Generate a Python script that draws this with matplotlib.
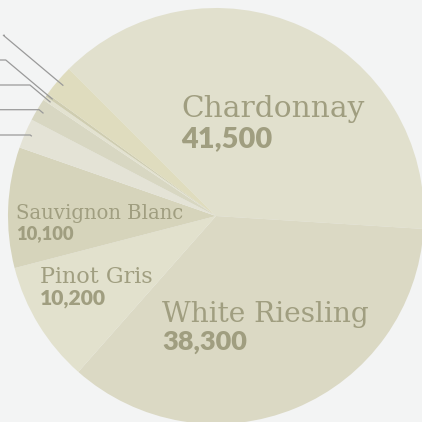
import matplotlib
matplotlib.use("Agg")
import matplotlib.pyplot as plt
import numpy as np

# slice data, clockwise from the top-left edge of Chardonnay
varieties = ["Chardonnay", "White Riesling", "Pinot Gris", "Sauvignon Blanc",
             "Gewurztraminer", "Viognier", "Muscat", "Semillon", "Other Whites"]
tonnes = [41500, 38300, 10200, 10100, 2500, 1900, 350, 270, 2700]
slice_colors = ["#e1e0cd", "#dbd9c4", "#e2e1cd", "#d6d4bb",
                "#e4e3d6", "#d8d7c2", "#e3e2d0", "#cfcdb0", "#dfdcbe"]

# which slices get a big label, and where (pixels, top-left origin)
big_labels = {
    "Chardonnay": (181, 117, 147, 21.3, 20.8),
    "White Riesling": (162, 322, 350, 20.2, 19.5),
    "Sauvignon Blanc": (16, 219, 239, 14.1, 13.2),
    "Pinot Gris": (40, 283, 305, 16.0, 15.2),
}
# leader label rows for the small slices (pixel y, label end x)
leader_rows = [(35.3, 5), (60, -10), (85, -10), (109.7, -10), (135, -10)]

W = 422
BG = "#f3f4f4"
TXT = "#a09e80"
CX, CY, R = 216, W - 216, 208

fig = plt.figure(figsize=(4.22, 4.22), dpi=100, facecolor=BG)
ax = fig.add_axes([0, 0, 1, 1])
ax.set_facecolor(BG)

wedges, _ = ax.pie(tonnes, colors=slice_colors, radius=R, center=(CX, CY),
                   startangle=135, counterclock=False,
                   wedgeprops=dict(linewidth=0, antialiased=True))
ax.set_xlim(0, W)
ax.set_ylim(0, W)
ax.set_aspect("equal")
ax.axis("off")

# big in-slice labels
for name, (x, y_name, y_val, fs_name, fs_val) in big_labels.items():
    val = tonnes[varieties.index(name)]
    ax.text(x, W - y_name, name, ha="left", va="baseline", color=TXT,
            fontsize=fs_name, family="DejaVu Serif")
    ax.text(x, W - y_val, f"{val:,}", ha="left", va="baseline", color=TXT,
            fontsize=fs_val, family="Lato", fontweight="heavy")

# leader lines for the small slices (labels sit off the canvas)
small = wedges[4:]
for w, (row_y, x0) in zip(small[::-1], leader_rows):
    mid = np.deg2rad((w.theta1 + w.theta2) / 2)
    ex = CX + 0.965 * R * np.cos(mid)
    ey = CY + 0.965 * R * np.sin(mid)
    ly = W - row_y
    elbow_x = ex - (ly - ey) / np.tan(np.deg2rad(40))
    ax.plot([x0, elbow_x, ex], [ly, ly, ey], color="#9a9a9a", lw=0.9,
            solid_capstyle="butt")

fig.savefig("out.png", dpi=100, facecolor=BG)
plt.close()
